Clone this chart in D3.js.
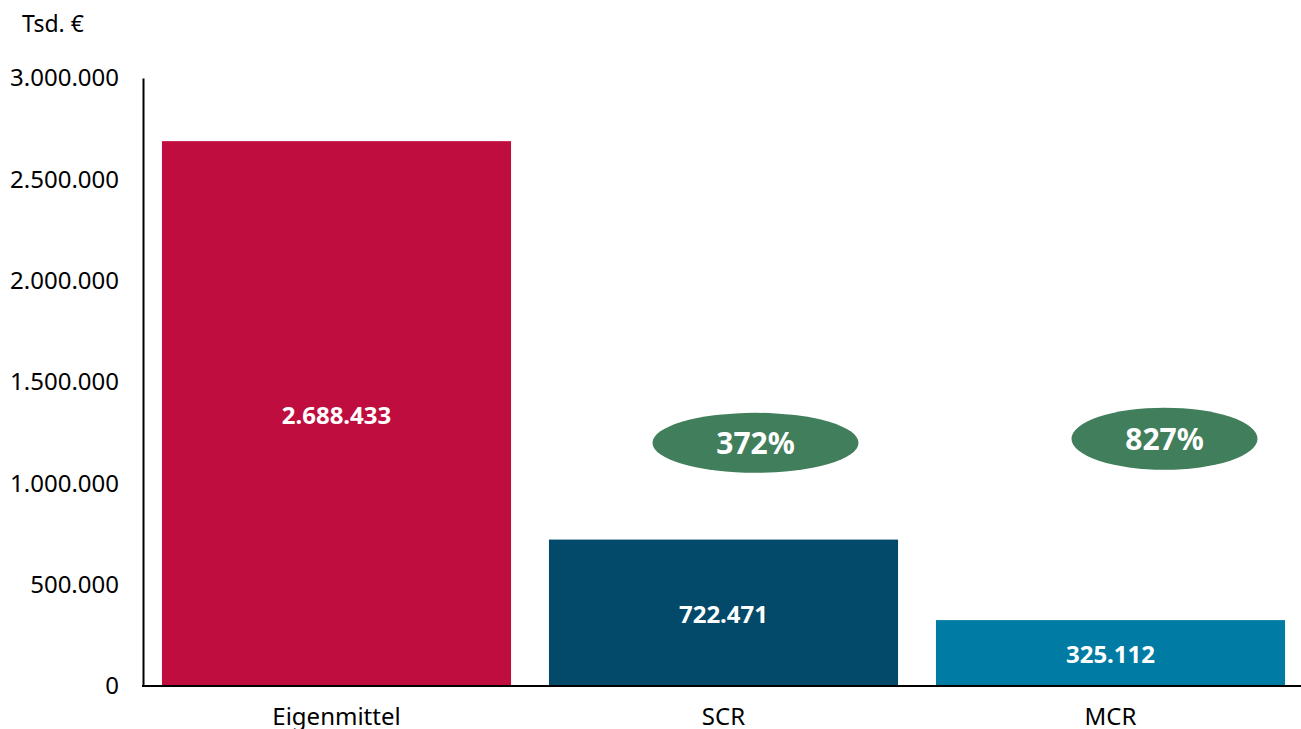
<!DOCTYPE html>
<html>
  <head>
    <meta charset="utf-8">
    <title>Eigenmittel SCR MCR</title>
    <script src="https://d3js.org/d3.v7.min.js"></script>
    <style>
      body { margin: 0; background: #fff; font-family: "Noto Sans", sans-serif; }
    </style>
  </head>
  <body>
    <svg></svg>
    <script>
      // Data values
      var categories = ["Eigenmittel", "SCR", "MCR"];
      var values = [2688433, 722471, 325112];
      var colors = ["#c00d40", "#034a6a", "#007ba3"];
      var ratios = [null, "372%", "827%"];
      var yTicks = [0, 500000, 1000000, 1500000, 2000000, 2500000, 3000000];

      var width = 1301, height = 729;
      var svg = d3.select("svg").attr("width", width).attr("height", height);

      var de = d3.formatLocale({ decimal: ",", thousands: ".", grouping: [3], currency: ["", " €"] });
      var fmt = de.format(",.0f");

      var x = d3.scaleBand().domain(categories).range([143, 1304])
        .paddingInner(0.098).paddingOuter(0.049);
      var y = d3.scaleLinear().domain([0, 3000000]).range([686, 78]);

      // unit label
      svg.append("text").attr("x", 22).attr("y", 32)
        .style("font-size", "23px").attr("fill", "#000").text("Tsd. €");

      // bars
      svg.selectAll("rect.bar").data(values).enter().append("rect")
        .attr("class", "bar")
        .attr("x", function(d, i) { return x(categories[i]); })
        .attr("y", function(d) { return y(d); })
        .attr("width", x.bandwidth())
        .attr("height", function(d) { return y(0) - y(d); })
        .attr("fill", function(d, i) { return colors[i]; });

      // value labels
      svg.selectAll("text.val").data(values).enter().append("text")
        .attr("class", "val")
        .attr("x", function(d, i) { return x(categories[i]) + x.bandwidth() / 2; })
        .attr("y", function(d) { return (y(d) + y(0)) / 2 + 2; })
        .attr("dy", "0.35em")
        .attr("text-anchor", "middle")
        .attr("fill", "#fff")
        .style("font-size", "24px").style("font-weight", "bold")
        .text(function(d) { return fmt(d); });

      // y axis
      var yAxis = svg.append("g").attr("transform", "translate(143,0)")
        .call(d3.axisLeft(y).tickValues(yTicks).tickSize(0).tickPadding(24).tickFormat(fmt));
      yAxis.select(".domain").attr("stroke", "#000").attr("stroke-width", 2);
      yAxis.selectAll("text").style("font-size", "24px").attr("fill", "#000")
        .style("font-family", "Noto Sans");

      // x axis
      var xAxis = svg.append("g").attr("transform", "translate(0,686)")
        .call(d3.axisBottom(x).tickSize(0).tickPadding(22));
      xAxis.select(".domain").remove();
      xAxis.append("line").attr("x1", 142).attr("x2", 1301)
        .attr("stroke", "#000").attr("stroke-width", 2);
      xAxis.selectAll("text").style("font-size", "24px").attr("fill", "#000")
        .style("font-family", "Noto Sans");

      // ratio ellipses
      var shapes = [null, { dx: 32, v: 1200000, rx: 103, ry: 30 }, { dx: 54, v: 1220000, rx: 93, ry: 31 }];
      ratios.forEach(function(r, i) {
        if (!r) return;
        var s = shapes[i];
        var cx = x(categories[i]) + x.bandwidth() / 2 + s.dx;
        var cy = y(s.v);
        svg.append("ellipse").attr("cx", cx).attr("cy", cy)
          .attr("rx", s.rx).attr("ry", s.ry).attr("fill", "#417e5b");
        svg.append("text").attr("x", cx).attr("y", cy).attr("dy", "0.36em")
          .attr("text-anchor", "middle").attr("fill", "#fff")
          .style("font-size", "30px").style("font-weight", "bold").text(r);
      });
    </script>
  </body>
</html>
